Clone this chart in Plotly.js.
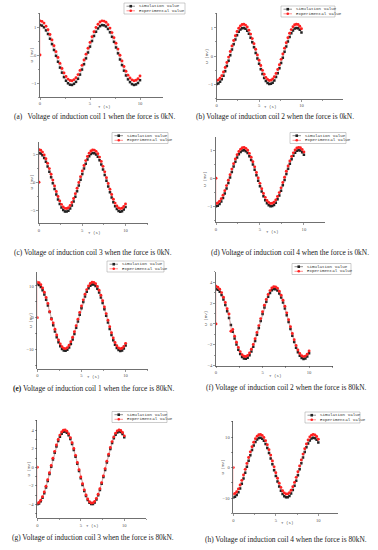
<!DOCTYPE html>
<html><head><meta charset="utf-8">
<script src="https://cdn.plot.ly/plotly-3.0.1.min.js"></script>
<style>html,body{margin:0;padding:0;background:#fff}#chart{width:378px;height:550px}</style>
</head><body><div id="chart"></div>
<script>
// time axis (s)
const t = [0,0.2,0.4,0.6,0.8,1,1.2,1.4,1.6,1.8,2,2.2,2.4,2.6,2.8,3,3.2,3.4,3.6,3.8,4,4.2,4.4,4.6,4.8,5,5.2,5.4,5.6,5.8,6,6.2,6.4,6.6,6.8,7,7.2,7.4,7.6,7.8,8,8.2,8.4,8.6,8.8,9,9.2,9.4,9.6,9.8,10];

// (a) coil 1, 0kN
const simA = [1.07,1.05,0.99,0.88,0.75,0.58,0.39,0.18,-0.03,-0.24,-0.45,-0.63,-0.79,-0.92,-1.01,-1.06,-1.07,-1.03,-0.96,-0.85,-0.70,-0.52,-0.33,-0.12,0.09,0.30,0.50,0.68,0.83,0.95,1.03,1.07,1.06,1.02,0.93,0.81,0.65,0.47,0.27,0.06,-0.16,-0.36,-0.56,-0.73,-0.87,-0.97,-1.04,-1.07,-1.05,-1.00,-0.90];
const expA = [0,1.22,1.20,1.14,1.03,0.90,0.73,0.54,0.33,0.12,-0.09,-0.30,-0.48,-0.64,-0.77,-0.86,-0.91,-0.92,-0.88,-0.81,-0.70,-0.55,-0.37,-0.18,0.03,0.24,0.45,0.65,0.83,0.98,1.10,1.18,1.22,1.21,1.17,1.08,0.96,0.80,0.62,0.42,0.21,-0.01,-0.21,-0.41,-0.58,-0.72,-0.82,-0.89,-0.92,-0.90,-0.85,-0.75];

// (b) coil 2, 0kN
const simB = [-1.00,-0.98,-0.92,-0.83,-0.70,-0.54,-0.36,-0.17,0.03,0.23,0.42,0.59,0.74,0.86,0.94,0.99,1.00,0.97,0.90,0.79,0.65,0.49,0.31,0.11,-0.09,-0.28,-0.47,-0.64,-0.78,-0.89,-0.96,-1.00,-0.99,-0.95,-0.87,-0.75,-0.61,-0.44,-0.25,-0.06,0.15,0.34,0.52,0.68,0.81,0.91,0.98,1.00,0.99,0.93,0.84];
const expB = [-0.87,-0.85,-0.79,-0.70,-0.57,-0.41,-0.23,-0.04,0.16,0.36,0.55,0.72,0.87,0.99,1.07,1.12,1.13,1.10,1.03,0.92,0.78,0.62,0.44,0.24,0.04,-0.15,-0.34,-0.51,-0.65,-0.76,-0.83,-0.87,-0.86,-0.82,-0.74,-0.62,-0.48,-0.31,-0.12,0.07,0.28,0.47,0.65,0.81,0.94,1.04,1.11,1.13,1.12,1.06,0.97];

// (c) coil 3, 0kN
const simC = [5.30,5.19,4.88,4.37,3.69,2.86,1.92,0.90,-0.15,-1.20,-2.20,-3.12,-3.91,-4.54,-4.99,-5.25,-5.29,-5.13,-4.75,-4.19,-3.47,-2.60,-1.63,-0.59,0.46,1.51,2.49,3.37,4.11,4.70,5.09,5.28,5.26,5.04,4.61,4.00,3.22,2.33,1.34,0.29,-0.77,-1.80,-2.76,-3.60,-4.30,-4.83,-5.17,-5.30,-5.22,-4.93,-4.45];
const expC = [0,5.90,5.78,5.45,4.93,4.25,3.42,2.47,1.45,0.40,-0.65,-1.65,-2.57,-3.36,-3.99,-4.44,-4.70,-4.74,-4.58,-4.20,-3.64,-2.92,-2.05,-1.08,-0.04,1.01,2.06,3.04,3.92,4.66,5.25,5.64,5.83,5.81,5.59,5.16,4.55,3.77,2.88,1.89,0.84,-0.22,-1.25,-2.21,-3.05,-3.75,-4.28,-4.62,-4.75,-4.67,-4.38,-3.90];

// (d) coil 4, 0kN
const simD = [-1.00,-0.98,-0.92,-0.83,-0.70,-0.54,-0.36,-0.17,0.03,0.23,0.42,0.59,0.74,0.86,0.94,0.99,1.00,0.97,0.90,0.79,0.65,0.49,0.31,0.11,-0.09,-0.28,-0.47,-0.64,-0.78,-0.89,-0.96,-1.00,-0.99,-0.95,-0.87,-0.75,-0.61,-0.44,-0.25,-0.06,0.15,0.34,0.52,0.68,0.81,0.91,0.98,1.00,0.99,0.93,0.84];
const expD = [0,-0.90,-0.88,-0.82,-0.73,-0.60,-0.44,-0.26,-0.07,0.13,0.33,0.52,0.69,0.84,0.96,1.04,1.09,1.10,1.07,1.00,0.89,0.75,0.59,0.41,0.21,0.01,-0.18,-0.37,-0.54,-0.68,-0.79,-0.86,-0.90,-0.89,-0.85,-0.77,-0.65,-0.51,-0.34,-0.15,0.04,0.25,0.44,0.62,0.78,0.91,1.01,1.08,1.10,1.09,1.03,0.94];

// (e) coil 1, 80kN
const simE = [10.50,10.29,9.67,8.66,7.32,5.67,3.80,1.79,-0.30,-2.38,-4.37,-6.18,-7.74,-9.00,-9.89,-10.40,-10.48,-10.15,-9.42,-8.31,-6.87,-5.15,-3.22,-1.18,0.91,2.98,4.92,6.67,8.15,9.30,10.08,10.46,10.43,9.99,9.12,7.92,6.38,4.61,2.65,0.58,-1.53,-3.57,-5.46,-7.14,-8.52,-9.57,-10.24,-10.50,-10.34,-9.77,-8.81];
const expE = [0,11.20,10.99,10.37,9.36,8.02,6.37,4.50,1.90,-0.50,-1.68,-3.67,-5.48,-7.04,-8.30,-9.19,-9.70,-9.78,-9.45,-8.72,-7.61,-6.17,-4.45,-2.52,-0.48,1.61,3.68,5.62,7.37,8.85,10.00,10.78,11.16,11.13,10.69,9.82,8.62,7.08,5.31,3.35,1.28,-0.83,-2.87,-4.76,-6.44,-7.82,-8.87,-9.54,-9.80,-9.64,-9.07,-8.11];

// (f) coil 2, 80kN
const simF = [3.35,3.28,3.09,2.76,2.33,1.81,1.21,0.57,-0.10,-0.76,-1.39,-1.97,-2.47,-2.87,-3.16,-3.32,-3.34,-3.24,-3.00,-2.65,-2.19,-1.64,-1.03,-0.38,0.29,0.95,1.57,2.13,2.60,2.97,3.22,3.34,3.33,3.19,2.91,2.53,2.04,1.47,0.84,0.18,-0.49,-1.14,-1.74,-2.28,-2.72,-3.05,-3.27,-3.35,-3.30,-3.12,-2.81];
const expF = [0,3.60,3.52,3.33,3.00,2.56,2.05,1.45,0.95,-0.70,-0.54,-1.17,-1.75,-2.25,-2.65,-2.94,-3.10,-3.12,-3.02,-2.78,-2.43,-1.97,-1.42,-0.81,-0.16,0.51,1.17,1.79,2.35,2.82,3.19,3.44,3.56,3.55,3.41,3.13,2.75,2.26,1.69,1.06,0.40,-0.27,-0.92,-1.52,-2.06,-2.50,-2.83,-3.05,-3.13,-3.08,-2.90,-2.59];

// (g) coil 3, 80kN
const simG = [-3.98,-3.90,-3.67,-3.29,-2.79,-2.18,-1.48,-0.73,0.05,0.83,1.57,2.25,2.83,3.30,3.63,3.82,3.85,3.73,3.46,3.04,2.50,1.86,1.14,0.38,-0.40,-1.17,-1.90,-2.55,-3.10,-3.53,-3.82,-3.96,-3.95,-3.79,-3.47,-3.02,-2.44,-1.78,-1.05,-0.28,0.51,1.27,1.98,2.61,3.12,3.51,3.76,3.86,3.80,3.59,3.23];
const expG = [0,-3.87,-3.79,-3.56,-3.18,-2.67,-2.05,-1.35,-0.59,0.19,0.98,1.72,2.41,2.99,3.47,3.80,3.99,4.02,3.90,3.62,3.20,2.66,2.02,1.29,0.52,-0.26,-1.04,-1.77,-2.43,-2.99,-3.42,-3.71,-3.85,-3.84,-3.68,-3.35,-2.90,-2.32,-1.65,-0.92,-0.14,0.66,1.42,2.13,2.77,3.28,3.68,3.93,4.03,3.97,3.75,3.39];

// (h) coil 4, 80kN
const simH = [-9.80,-9.60,-9.03,-8.09,-6.83,-5.29,-3.55,-1.67,0.28,2.22,4.08,5.77,7.22,8.40,9.23,9.70,9.78,9.48,8.79,7.75,6.41,4.80,3.01,1.10,-0.85,-2.78,-4.60,-6.22,-7.60,-8.68,-9.41,-9.76,-9.73,-9.32,-8.52,-7.39,-5.96,-4.30,-2.47,-0.54,1.43,3.33,5.10,6.66,7.95,8.93,9.56,9.80,9.65,9.11,8.22];
const expH = [0,-8.70,-8.50,-7.93,-6.99,-5.73,-4.19,-2.45,-0.57,1.38,3.32,5.18,6.87,8.32,9.50,10.33,10.80,10.88,10.58,9.89,8.85,7.51,5.90,4.11,2.20,0.25,-1.68,-3.50,-5.12,-6.50,-7.58,-8.31,-8.66,-8.63,-8.22,-7.42,-6.29,-4.86,-3.20,-1.37,0.56,2.53,4.43,6.20,7.76,9.05,10.03,10.66,10.90,10.75,10.21,9.32];

const seriesNames = ["Simulation value", "Experimental value"];
const xTitle = "T (s)", yTitle = "U (mV)";
const captions = [
  "(a)\u00a0\u00a0 Voltage of induction coil 1 when the force is 0kN.",
  "(b) Voltage of induction coil 2 when the force is 0kN.",
  "(c) Voltage of induction coil 3 when the force is 0kN.",
  "(d) Voltage of induction coil 4 when the force is 0kN.",
  "<b>(e)</b> Voltage of induction coil 1 when the force is 80kN.",
  "(f) Voltage of induction coil 2 when the force is 80kN.",
  "(g) Voltage of induction coil 3 when the force is 80kN.",
  "(h) Voltage of induction coil 4 when the force is 80kN."
];
const yTickStep = [1, 1, 5, 1, 10, 2, 2, 10];

// panel geometry in pixels: box [left, right, top, bottom]; legend [left, top, w, h]; caption [cx, cy]; title offsets
const W = 378, H = 550;
const panels = [
  {sim: simA, exp: expA, box: [40, 163, 13, 97],     xr: [0, 12.3],  yr: [-1.5, 1.5],   leg: [124, 3, 61, 11],   cap: [94, 116], yt: -8.5, xt: 10},
  {sim: simB, exp: expB, box: [216.7, 343, 13, 99],  xr: [0, 14.9],  yr: [-1.53, 1.53], leg: [281, 6, 54, 11],   cap: [275, 116], yt: -10, xt: 8},
  {sim: simC, exp: expC, box: [39, 148, 141.7, 223.3], xr: [0, 12.6], yr: [-7.4, 7.33], leg: [112, 132.5, 56, 11], cap: [92.5, 252], yt: -7, xt: 10},
  {sim: simD, exp: expD, box: [216, 325, 137, 222.3], xr: [0, 12.4], yr: [-1.57, 1.475], leg: [290, 132.5, 56, 11], cap: [290, 253], yt: -11, xt: 9.5},
  {sim: simE, exp: expE, box: [37.3, 147.7, 272, 369], xr: [0, 12.5], yr: [-16.2, 14.4], leg: [107, 261, 57, 11], cap: [93, 388], yt: -7, xt: 8},
  {sim: simF, exp: expF, box: [216, 333.3, 271.7, 365.7], xr: [0, 12.6], yr: [-4, 5.0], leg: [292, 263.5, 59, 11], cap: [286, 387], yt: -10, xt: 10},
  {sim: simG, exp: expG, box: [37.3, 146, 420, 518.3], xr: [0, 12.5], yr: [-5.5, 5.1], leg: [112, 411.5, 55, 11], cap: [93.3, 537], yt: -8, xt: 7.5},
  {sim: simH, exp: expH, box: [233.3, 338.3, 421, 513.3], xr: [0, 12.35], yr: [-15, 15.3], leg: [305, 412, 55, 11], cap: [286, 539], yt: -10, xt: 10}
];

const px = v => v / W, py = v => 1 - v / H;
const data = [];
const layout = {
  width: W, height: H, margin: {l: 0, r: 0, t: 0, b: 0},
  paper_bgcolor: '#fff', plot_bgcolor: '#fff', showlegend: false,
  annotations: [], shapes: []
};
const axisFont = {family: 'Liberation Serif', size: 4.6, color: '#555'};
const titleFont = {family: 'Liberation Mono', size: 4.2, color: '#555'};
const legFont = {family: 'Liberation Mono', size: 4.2, color: '#333'};

panels.forEach((p, i) => {
  const n = i === 0 ? '' : String(i + 1);
  const xa = 'x' + n, ya = 'y' + n;
  const tExp = p.exp.length === t.length + 1 ? [0].concat(t) : t;
  data.push({
    x: t, y: p.sim, xaxis: xa, yaxis: ya, name: seriesNames[0], type: 'scatter', mode: 'lines+markers',
    line: {color: '#333', width: 0.3}, marker: {symbol: 'square', size: 2.5, color: '#222'}
  });
  data.push({
    x: tExp, y: p.exp, xaxis: xa, yaxis: ya, name: seriesNames[1], type: 'scatter', mode: 'lines+markers',
    line: {color: '#ff5050', width: 0.3}, marker: {symbol: 'circle', size: 2.9, color: '#ff2020'}
  });
  const [l, r, tp, bt] = p.box;
  layout['xaxis' + n] = {
    domain: [px(l), px(r)], anchor: ya, range: p.xr, dtick: 5, tick0: 0,
    showline: true, linecolor: '#333', linewidth: 0.7, zeroline: false, showgrid: false,
    ticks: 'outside', ticklen: 2, tickwidth: 0.5, tickcolor: '#333',
    minor: {dtick: 2.5, ticks: 'outside', ticklen: 1.3, tickwidth: 0.5, tickcolor: '#333'},
    tickfont: axisFont
  };
  layout['yaxis' + n] = {
    domain: [py(bt), py(tp)], anchor: xa, range: p.yr, dtick: yTickStep[i], tick0: 0,
    showline: true, linecolor: '#333', linewidth: 0.7, zeroline: false, showgrid: false,
    ticks: 'outside', ticklen: 2, tickwidth: 0.5, tickcolor: '#333',
    minor: {dtick: yTickStep[i] / 2, ticks: 'outside', ticklen: 1.3, tickwidth: 0.5, tickcolor: '#333'},
    tickfont: axisFont
  };
  // axis titles
  layout.annotations.push({xref: xa, yref: 'paper', x: 6.4, y: py(bt + p.xt), xanchor: 'center', yanchor: 'middle',
    text: xTitle, showarrow: false, font: titleFont});
  layout.annotations.push({xref: 'paper', yref: 'paper', x: px(l + p.yt), y: py((tp + bt) / 2), xanchor: 'center', yanchor: 'middle',
    text: yTitle, textangle: -90, showarrow: false, font: titleFont});
  // caption
  layout.annotations.push({
    xref: 'paper', yref: 'paper', x: px(p.cap[0]), y: py(p.cap[1]), xanchor: 'center', yanchor: 'middle',
    text: captions[i], showarrow: false, font: {family: 'Liberation Serif', size: 7.4, color: '#222'}
  });
  // legend box
  const [lx, ly, lw, lh] = p.leg;
  layout.shapes.push({type: 'rect', xref: 'paper', yref: 'paper', x0: px(lx), x1: px(lx + lw), y0: py(ly + lh), y1: py(ly),
    line: {color: '#999', width: 0.5}, fillcolor: 'rgba(255,255,255,0)'});
  const rows = [ly + 3.2, ly + 7.8];
  const cols = ['#222', '#ff2020'];
  rows.forEach((ry, k) => {
    layout.shapes.push({type: 'line', xref: 'paper', yref: 'paper', x0: px(lx + 2.5), x1: px(lx + 11), y0: py(ry), y1: py(ry),
      line: {color: cols[k], width: 0.5}});
    const s = 1.3;
    layout.shapes.push({type: k === 0 ? 'rect' : 'circle', xref: 'paper', yref: 'paper',
      x0: px(lx + 6.75 - s), x1: px(lx + 6.75 + s), y0: py(ry + s), y1: py(ry - s),
      line: {color: cols[k], width: 0}, fillcolor: cols[k]});
    layout.annotations.push({xref: 'paper', yref: 'paper', x: px(lx + 12.5), y: py(ry), xanchor: 'left', yanchor: 'middle',
      text: seriesNames[k], showarrow: false, font: legFont});
  });
});

Plotly.newPlot('chart', data, layout, {staticPlot: true, displayModeBar: false});
</script>
</body></html>
